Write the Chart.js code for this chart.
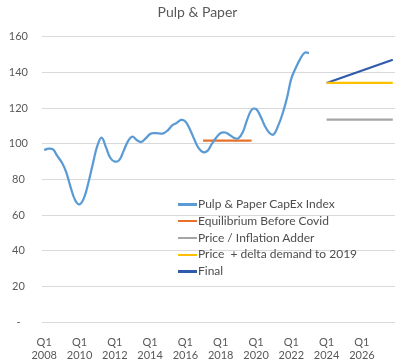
<!DOCTYPE html>
<html>
<head>
<meta charset="utf-8">
<script src="https://cdn.jsdelivr.net/npm/chart.js@4.4.1/dist/chart.umd.min.js"></script>
<style>
  html,body{margin:0;padding:0;background:#fff;}
  #wrap{position:relative;width:400px;height:362px;}
  #legend{position:absolute;left:178px;top:196px;font:12px Lato, sans-serif;color:#4d4d4d;}
  #legend .row{height:16.8px;line-height:16.8px;display:flex;align-items:center;white-space:pre;}
  #legend .sw{width:19px;height:2.5px;margin-right:1px;}
</style>
</head>
<body>
<div id="wrap">
  <canvas id="c" width="400" height="362"></canvas>
  <div id="legend"></div>
</div>
<script>
(function(){
  // categories
  const years    = [2008,2009,2010,2011,2012,2013,2014,2015,2016,2017,2018,2019,2020,2021,2022,2023,2024,2025,2026,2027];
  const quarters = ['Q1','Q2','Q3','Q4'];
  const labels = [];
  years.forEach(y => quarters.forEach(q => labels.push(q + ' ' + y)));

  // Pulp & Paper CapEx Index, Q1 2008 .. Q1 2023
  const capexIndex = [
    96.5, 97.3, 96.8, 93.0, 89.5, 84.0, 75.5, 68.5,
    66.0, 69.5, 78.0, 88.5, 98.5, 103.5, 98.0, 92.0,
    90.0, 90.8, 96.0, 101.5, 104.0, 102.0, 101.0, 103.0,
    105.5, 106.0, 105.8, 105.8, 107.5, 110.3, 111.6, 113.4,
    112.5, 108.2, 102.5, 97.5, 95.3, 96.0, 100.0, 103.5,
    106.0, 106.3, 105.0, 103.3, 103.0, 106.5, 113.5, 119.0,
    119.5, 115.5, 110.0, 106.2, 105.2, 110.0, 116.7, 125.5,
    136.5, 142.5, 147.5, 151.0, 151.0
  ];

  // reference lines (start / end)
  const eqPeriod    = ['Q1 2017', 'Q4 2019'];
  const eqValues    = [101.7, 101.7];
  const fcPeriod    = ['Q1 2024', 'Q4 2027'];
  const inflation   = [113.6, 113.6];
  const priceDelta  = [134.1, 134.1];
  const finalValues = [134.1, 147.1];

  const yTicks = [0,20,40,60,80,100,120,140,160];

  const pts = (xs, ys) => xs.map((x,i)=>({x, y: ys[i]}));

  const series = [
    {label:'Pulp & Paper CapEx Index', data: capexIndex, color:'#5B9BD5', tension:0.4},
    {label:'Equilibrium Before Covid', data: pts(eqPeriod, eqValues), color:'#E8712A'},
    {label:'Price / Inflation Adder', data: pts(fcPeriod, inflation), color:'#A5A5A5'},
    {label:'Price  + delta demand to 2019', data: pts(fcPeriod, priceDelta), color:'#FFC000'},
    {label:'Final', data: pts(fcPeriod, finalValues), color:'#2F5BAA'}
  ];

  const datasets = series.map(s => ({
    label: s.label, data: s.data, borderColor: s.color, backgroundColor: s.color,
    borderWidth: 2.25, pointRadius: 0, tension: s.tension || 0, fill: false
  }));

  new Chart(document.getElementById('c'), {
    type: 'line',
    data: { labels, datasets },
    options: {
      responsive: false, animation: false,
      layout: { padding: { top: 0, right: 5, bottom: 0, left: 0 } },
      plugins: {
        legend: { display: false },
        tooltip: { enabled: false },
        title: {
          display: true, text: 'Pulp & Paper', color: '#595959',
          font: { family: 'Lato', size: 14, weight: 'normal' },
          padding: { top: 4, bottom: 16 }
        }
      },
      scales: {
        x: {
          offset: true,
          grid: { display: false },
          border: { display: false },
          afterFit: ax => { ax.height = 40; },
          ticks: {
            autoSkip: false, maxRotation: 0, minRotation: 0, padding: 6,
            color: '#595959', font: { family: 'Lato', size: 11, lineHeight: 1.15 },
            callback: (v, i) => i % 8 === 0 ? labels[i].split(' ') : ''
          }
        },
        y: {
          min: 0, max: 160,
          afterBuildTicks: ax => { ax.ticks = yTicks.map(v => ({value: v})); },
          afterFit: ax => { ax.width = 42; },
          grid: { color: '#D9D9D9', drawTicks: false },
          border: { display: false },
          ticks: {
            color: '#595959', font: { family: 'Lato', size: 11 }, padding: 14,
            crossAlign: 'center',
            callback: v => v === 0 ? '-' : v
          }
        }
      }
    }
  });

  // legend inside plot area
  document.getElementById('legend').innerHTML = series.map(s =>
    `<div class="row"><span class="sw" style="background:${s.color}"></span>${s.label}</div>`).join('');
})();
</script>
</body>
</html>
